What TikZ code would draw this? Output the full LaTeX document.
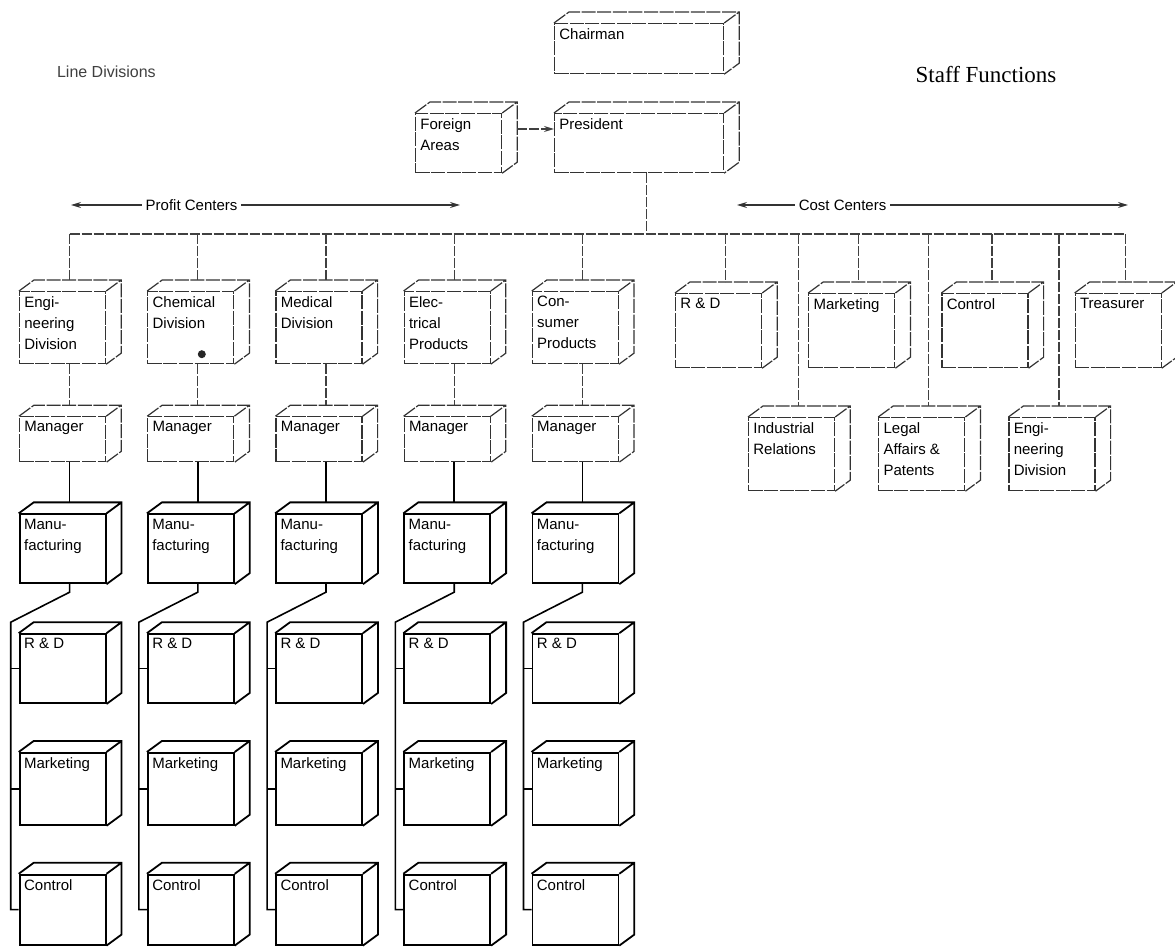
\documentclass[tikz,border=0pt]{standalone}
\usepackage{fontspec}
\setmainfont{Liberation Serif}
\setsansfont{Liberation Sans}
\usepackage{tikz}
\usetikzlibrary{arrows.meta, positioning, calc}
\newcommand{\boxfont}{\sffamily\fontsize{7.5}{10.5}\selectfont}

\begin{document}
\begin{tikzpicture}[
    x=0.5pt, y=-0.5pt,
    font=\boxfont,
    dimbox/.style={draw=black!80, fill=white, line width=0.6pt, dash pattern=on 7pt off 0.8pt, anchor=north west, minimum width=43pt, inner sep=0pt},
    boldbox/.style={draw=black, fill=white, line width=0.9pt, anchor=north west, minimum width=43pt, inner sep=0pt},
    dimface/.style={draw=black!80, line width=0.6pt, dash pattern=on 7pt off 0.8pt},
    boldface/.style={draw=black, line width=0.9pt},
    boxtext/.style={anchor=north west, align=left, inner sep=2.5pt, font=\boxfont},
    dimlink/.style={draw=black!75, line width=0.6pt, dash pattern=on 5pt off 1pt},
    link/.style={draw=black, line width=0.8pt},
    spanArrow/.style={draw=black!80, line width=0.6pt, {Stealth[length=5pt,width=3pt]}-{Stealth[length=5pt,width=3pt]}}
]
\useasboundingbox (0,0) rectangle (1175,951);

% Top: chairman, president, foreign areas
\node[dimbox, minimum width=84.5pt, minimum height=25pt, label={[boxtext]north west:Chairman}] (chair) at (554,23) {};
\node[dimbox, minimum width=84.5pt, minimum height=29.5pt, label={[boxtext]north west:President}] (pres) at (554,113) {};
\node[dimbox, minimum height=29.5pt, label={[boxtext]north west:Foreign\\Areas}] (fa) at (415,113) {};

% Headings
\node[anchor=west, font=\sffamily\fontsize{8}{9}\selectfont, text=black!75] (linediv) at (50,72) {Line Divisions};
\node[font=\fontsize{11.5}{13}\selectfont] (staff) at (986,75) {Staff Functions};

% Profit / cost centres
\coordinate (profitL) at (71,205);
\coordinate (profitR) at (460,205);
\coordinate (costL) at (737,205);
\coordinate (costR) at (1128,205);
\draw[spanArrow] (profitL) -- node[pos=0.31, fill=white, inner sep=2pt] (profit) {Profit Centers} (profitR);
\draw[spanArrow] (costL) -- node[pos=0.27, fill=white, inner sep=2pt] (cost) {Cost Centers} (costR);

% Row 1: line divisions
\node[dimbox, minimum height=36pt, label={[boxtext]north west:Engi-\\neering\\Division}] (div1) at (19,291) {};
\node[dimbox, minimum height=36pt, right=20.5pt of div1, label={[boxtext]north west:Chemical\\Division}] (div2) {};
\node[dimbox, minimum height=36pt, right=20.5pt of div2, label={[boxtext]north west:Medical\\Division}] (div3) {};
\node[dimbox, minimum height=36pt, right=20.5pt of div3, label={[boxtext]north west:Elec-\\trical\\Products}] (div4) {};
\node[dimbox, minimum height=36pt, right=20.5pt of div4, label={[boxtext]north west:Con-\\sumer\\Products}] (div5) {};

% Staff functions: upper row
\node[dimbox, minimum height=37pt, label={[boxtext]north west:R \& D}] (srd) at (675,293) {};
\node[dimbox, minimum height=37pt, right=23pt of srd, label={[boxtext]north west:Marketing}] (smkt) {};
\node[dimbox, minimum height=37pt, right=23pt of smkt, label={[boxtext]north west:Control}] (sctl) {};
\node[dimbox, minimum height=37pt, right=23pt of sctl, label={[boxtext]north west:Treasurer}] (streas) {};

% Staff functions: lower row
\node[dimbox, minimum height=36.5pt, label={[boxtext]north west:Industrial\\Relations}] (sind) at (748,417) {};
\node[dimbox, minimum height=36.5pt, right=21.5pt of sind, label={[boxtext]north west:Legal\\Affairs \&\\Patents}] (slegal) {};
\node[dimbox, minimum height=36.5pt, right=21.5pt of slegal, label={[boxtext]north west:Engi-\\neering\\Division}] (seng) {};

% Columns below each division
\foreach \c in {1,...,5} {
  \node[dimbox, minimum height=22.5pt, below=26pt of div\c, label={[boxtext]north west:Manager}] (mgr\c) {};
  \node[boldbox, minimum height=34.5pt, below=25.5pt of mgr\c, label={[boxtext]north west:Manu-\\facturing}] (mfg\c) {};
  \node[boldbox, minimum height=34.5pt, below=24.5pt of mfg\c, label={[boxtext]north west:R \& D}] (rnd\c) {};
  \node[boldbox, minimum height=36pt, below=24pt of rnd\c, label={[boxtext]north west:Marketing}] (mkt\c) {};
  \node[boldbox, minimum height=35pt, below=24pt of mkt\c, label={[boxtext]north west:Control}] (ctl\c) {};
}

% Depth faces
\foreach \b in {chair,pres,fa,div1,div2,div3,div4,div5,srd,smkt,sctl,streas,sind,slegal,seng,mgr1,mgr2,mgr3,mgr4,mgr5}
  \draw[dimface] (\b.north west) -- ++(7.5pt,5.5pt) -| ($(\b.south east)+(7.5pt,5.5pt)$) -- (\b.south east) (\b.north east) -- ++(7.5pt,5.5pt);
\foreach \c in {1,...,5}
  \foreach \r in {mfg,rnd,mkt,ctl}
    \draw[boldface] (\r\c.north west) -- ++(7.5pt,5.5pt) -| ($(\r\c.south east)+(7.5pt,5.5pt)$) -- (\r\c.south east) (\r\c.north east) -- ++(7.5pt,5.5pt);

% Foreign areas to president, president down to the bus
\draw[dimlink, -{Stealth[length=5pt,width=3pt]}] ($(fa.north east)+(7.5pt,-8pt)$) -- ($(pres.north west)+(0,-8pt)$);
\coordinate (bus) at (646,234);
\draw[dimlink] ($(pres.south)+(3.5pt,0)$) -- ($(pres.south |- bus)+(3.5pt,0)$);
\draw[dimlink] ($(div1.north |- bus)+(3.5pt,0)$) -- ($(streas.north |- bus)+(3.5pt,0)$);
\foreach \b in {div1,div2,div3,div4,div5,srd,smkt,sctl,streas,sind,slegal,seng}
  \draw[dimlink] ($(\b.north |- bus)+(3.5pt,0)$) -- ($(\b.north)+(3.5pt,5.5pt)$);

% Down each column
\foreach \c in {1,...,5} {
  \draw[dimlink] ($(div\c.south)+(3.5pt,0)$) -- ($(mgr\c.north)+(3.5pt,5.5pt)$);
  \draw[link] ($(mgr\c.south)+(3.5pt,0)$) -- ($(mfg\c.north)+(3.5pt,5.5pt)$);
  \draw[link] ($(mfg\c.south)+(3.5pt,0)$) -- ++(0,8) -- ($(rnd\c.north west)+(-4pt,5.5pt)$) |- (ctl\c.west);
  \draw[link] (rnd\c.west) -- ++(-4pt,0);
  \draw[link] (mkt\c.west) -- ++(-4pt,0);
}

% mark in the chemical division box
\fill[black!85] ($(div2.south)+(5.5pt,5pt)$) circle (2pt);

\end{tikzpicture}
\end{document}
